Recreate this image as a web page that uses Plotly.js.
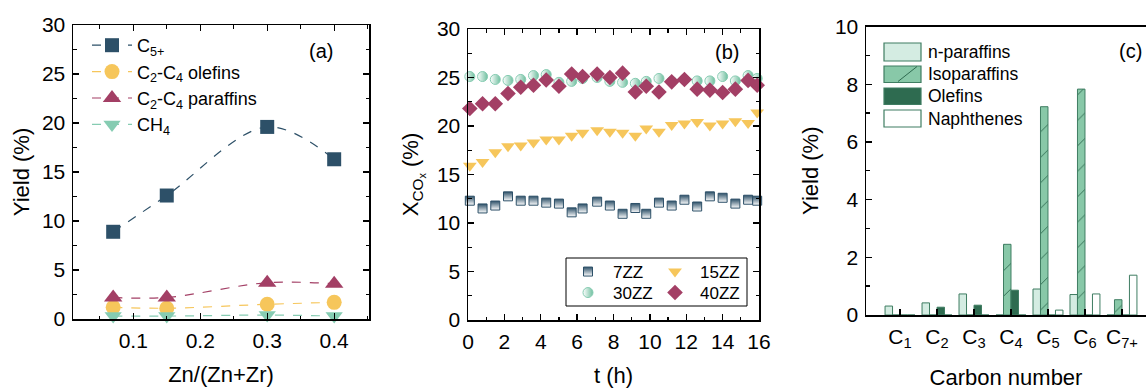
<!DOCTYPE html>
<html><head><meta charset="utf-8">
<script src="https://cdn.plot.ly/plotly-3.0.1.min.js"></script>
<style>html,body{margin:0;padding:0;background:#fff}#chart{width:1146px;height:390px}</style>
</head><body><div id="chart"></div>
<script>
// ---------- Panel (a) ----------
const znRatio = [0.07, 0.15, 0.30, 0.40];
const c5plus = [8.9, 12.6, 19.6, 16.3];
const c2c4Olefins = [1.2, 1.1, 1.5, 1.7];
const c2c4Paraffins = [2.2, 2.2, 3.7, 3.6];
const ch4 = [0.3, 0.3, 0.4, 0.3];
const seriesNamesA = ['C<sub>5+</sub>', 'C<sub>2</sub>-C<sub>4</sub> olefins', 'C<sub>2</sub>-C<sub>4</sub> paraffins', 'CH<sub>4</sub>'];

// ---------- Panel (b) ----------
const timeH = [0.1, 0.8, 1.5, 2.2, 2.9, 3.6, 4.3, 5.0, 5.7, 6.3, 7.1, 7.8, 8.5, 9.2, 9.8, 10.5, 11.2, 11.9, 12.6, 13.3, 14.0, 14.7, 15.4, 15.9];
const conv7ZZ = [12.3, 11.5, 11.8, 12.75, 12.3, 12.3, 12.1, 12.0, 11.1, 11.5, 12.2, 11.8, 10.95, 11.55, 10.95, 12.1, 11.8, 12.4, 11.7, 12.75, 12.6, 12.0, 12.4, 12.3];
const conv15ZZ = [15.9, 16.3, 17.3, 17.9, 18.0, 18.3, 18.6, 18.6, 19.0, 19.3, 19.55, 19.4, 19.3, 19.0, 19.75, 19.4, 20.1, 20.25, 20.4, 20.05, 20.25, 20.5, 20.3, 21.4];
const conv30ZZ = [25.1, 25.1, 24.8, 24.7, 24.8, 25.2, 25.3, 24.5, 24.6, 24.9, 25.0, 24.6, 24.5, 24.4, 24.6, 24.9, 24.6, 24.8, 24.65, 24.65, 25.1, 24.65, 25.2, 24.9];
const conv40ZZ = [21.8, 22.3, 22.3, 23.35, 24.0, 24.2, 24.75, 24.1, 25.35, 25.1, 25.35, 25.0, 25.45, 23.5, 24.1, 23.5, 24.55, 24.8, 23.8, 23.7, 23.45, 23.8, 24.7, 24.2];
const seriesNamesB = ['7ZZ', '15ZZ', '30ZZ', '40ZZ'];

// ---------- Panel (c) ----------
const carbonLabels = ['C<sub>1</sub>', 'C<sub>2</sub>', 'C<sub>3</sub>', 'C<sub>4</sub>', 'C<sub>5</sub>', 'C<sub>6</sub>', 'C<sub>7+</sub>'];
const nParaffins = [0.31, 0.42, 0.73, 0, 0.90, 0.71, 0];
const isoParaffins = [0, 0, 0, 2.45, 7.22, 7.83, 0.53];
const olefinsC = [0, 0.27, 0.34, 0.86, 0, 0, 0];
const naphthenes = [0, 0, 0, 0, 0.17, 0.73, 1.38];
const seriesNamesC = ['n-paraffins', 'Isoparaffins', 'Olefins', 'Naphthenes'];

// ---------- styling ----------
const W = 1146, H = 390;
const px = x => x / W;
const py = y => 1 - y / H;
const FONT = 'Liberation Sans, Arial, sans-serif';
const navy = '#2d5068', yellow = '#f6c65b', wine = '#a33f65', mint = '#86ccb2';
const gLight = '#d4ece2', gMid = '#88c8a8', gDark = '#2e6b50', gEdge = '#3f7d62';

const traces = [];
// Panel (a)
const aSeries = [c5plus, c2c4Olefins, c2c4Paraffins, ch4];
const aColors = [navy, yellow, wine, mint];
const aSymbols = ['square', 'circle', 'triangle-up', 'triangle-down'];
const aSizes = [14, 15, 16, 15];
aSeries.forEach((vals, i) => {
  traces.push({
    type: 'scatter', mode: 'lines+markers', x: znRatio, y: vals, name: seriesNamesA[i],
    xaxis: 'x', yaxis: 'y', legend: 'legend', cliponaxis: false,
    line: {color: aColors[i], width: 1.2, dash: 'dash', shape: 'spline', smoothing: 1},
    marker: {symbol: aSymbols[i], size: aSizes[i], color: aColors[i], line: {width: 0}}
  });
});

// Panel (b)
const bSeries = [conv7ZZ, conv15ZZ, conv30ZZ, conv40ZZ];
const bMarkers = [
  {symbol: 'square', size: 9, color: navy, gradient: {type: 'vertical', color: '#ffffff'}, line: {color: navy, width: 1}},
  {symbol: 'triangle-down', size: 12, color: yellow, line: {width: 0}},
  {symbol: 'circle', size: 10, color: '#ffffff', gradient: {type: 'horizontal', color: '#6fbf9f'}, line: {color: mint, width: 1}},
  {symbol: 'diamond', size: 12, color: wine, line: {width: 0}}
];
const bLegends = ['legend2', 'legend3', 'legend4', 'legend5'];
bSeries.forEach((vals, i) => {
  traces.push({
    type: 'scatter', mode: 'markers', x: timeH, y: vals, name: seriesNamesB[i],
    xaxis: 'x2', yaxis: 'y2', legend: bLegends[i], cliponaxis: false,
    marker: bMarkers[i]
  });
});

// Panel (c)
const cSeries = [nParaffins, isoParaffins, olefinsC, naphthenes];
const cColors = [gLight, gMid, gDark, '#ffffff'];
cSeries.forEach((vals, i) => {
  const m = {color: cColors[i], line: {color: gEdge, width: 1}};
  if (i === 1) m.pattern = {shape: '/', fgcolor: gDark, bgcolor: gMid, size: 18, solidity: 0.05};
  traces.push({
    type: 'bar', x: carbonLabels, y: vals, name: seriesNamesC[i],
    xaxis: 'x3', yaxis: 'y3', showlegend: false, marker: m
  });
});

const tickFont = {family: FONT, size: 21, color: '#000'};
const titleFont = {family: FONT, size: 22, color: '#000'};
function lin(extra) {
  return Object.assign({
    showline: true, linecolor: '#000', linewidth: 1.5, mirror: 'allticks',
    ticks: 'inside', ticklen: 6, tickwidth: 1.3, tickcolor: '#000',
    showgrid: false, zeroline: false, tickfont: tickFont, ticklabelstandoff: 2
  }, extra);
}
const legFont = {family: FONT, size: 17, color: '#000'};
function legAt(x, y, extra) {
  return Object.assign({x: px(x), y: py(y), xanchor: 'left', yanchor: 'middle',
    bgcolor: 'rgba(0,0,0,0)', font: legFont, itemwidth: 40, borderwidth: 0}, extra);
}

const layout = {
  width: W, height: H, margin: {l: 0, r: 0, t: 0, b: 0},
  paper_bgcolor: '#fff', plot_bgcolor: 'rgba(0,0,0,0)',
  font: {family: FONT, color: '#000'},
  barmode: 'group', bargap: 0.19, bargroupgap: 0,
  xaxis: lin({domain: [px(73), px(369)], anchor: 'y', range: [0.01, 0.452], dtick: 0.1, tick0: 0,
    minor: {dtick: 0.05, ticks: 'inside', ticklen: 3.5, tickcolor: '#000'},
    title: {text: 'Zn/(Zn+Zr)', font: titleFont, standoff: 16}}),
  yaxis: lin({domain: [py(319), py(25)], anchor: 'x', range: [0, 30], dtick: 5,
    minor: {dtick: 2.5, ticks: 'inside', ticklen: 3.5, tickcolor: '#000'},
    title: {text: 'Yield (%)', font: titleFont, standoff: 6}}),
  xaxis2: lin({domain: [px(468), px(759)], anchor: 'y2', range: [0, 16], dtick: 2,
    minor: {dtick: 1, ticks: 'inside', ticklen: 3.5, tickcolor: '#000'},
    title: {text: 't (h)', font: titleFont, standoff: 16}}),
  yaxis2: lin({domain: [py(320), py(29)], anchor: 'x2', range: [0, 30], dtick: 5,
    minor: {dtick: 2.5, ticks: 'inside', ticklen: 3.5, tickcolor: '#000'},
    title: {text: 'X<sub>CO<sub>x</sub></sub> (%)', font: titleFont, standoff: 12}}),
  xaxis3: lin({domain: [px(866), 1], anchor: 'y3', range: [-0.92, 6.65], mirror: true,
    title: {text: 'Carbon number', font: titleFont, standoff: 21}}),
  yaxis3: lin({domain: [py(315), py(26.5)], anchor: 'x3', range: [0, 10], dtick: 2, mirror: false,
    minor: {dtick: 1, ticks: 'inside', ticklen: 3.5, tickcolor: '#000'},
    title: {text: 'Yield (%)', font: titleFont, standoff: 10}}),
  legend: {x: px(87), y: py(27), xanchor: 'left', yanchor: 'top', bgcolor: 'rgba(0,0,0,0)',
    font: {family: FONT, size: 18, color: '#000'}, itemwidth: 40, tracegroupgap: 0},
  legend2: legAt(563, 272),
  legend3: legAt(650, 272),
  legend4: legAt(563, 293),
  legend5: legAt(650, 293),
  annotations: [
    {xref: 'paper', yref: 'paper', x: px(321), y: py(51), xanchor: 'center', yanchor: 'middle', text: '(a)', showarrow: false, font: {family: FONT, size: 20, color: '#000'}},
    {xref: 'paper', yref: 'paper', x: px(727), y: py(52), xanchor: 'center', yanchor: 'middle', text: '(b)', showarrow: false, font: {family: FONT, size: 20, color: '#000'}},
    {xref: 'paper', yref: 'paper', x: px(1130), y: py(51), xanchor: 'center', yanchor: 'middle', text: '(c)', showarrow: false, font: {family: FONT, size: 20, color: '#000'}}
  ],
  shapes: [
    {type: 'rect', xref: 'paper', yref: 'paper', x0: px(566), x1: px(747), y0: py(306), y1: py(258), line: {color: '#000', width: 1}}
  ]
};

// Panel (c) legend drawn as swatches + text
const swatchY = [[43, 61], [66, 82.5], [88, 104.5], [110, 127]];
const swatchFill = [gLight, gMid, gDark, '#ffffff'];
seriesNamesC.forEach((nm, i) => {
  layout.shapes.push({type: 'rect', xref: 'paper', yref: 'paper', x0: px(884), x1: px(921),
    y0: py(swatchY[i][1]), y1: py(swatchY[i][0]), fillcolor: swatchFill[i], line: {color: gEdge, width: 1.2}});
  layout.annotations.push({xref: 'paper', yref: 'paper', x: px(926), y: py((swatchY[i][0] + swatchY[i][1]) / 2),
    xanchor: 'left', yanchor: 'middle', text: nm, showarrow: false, font: {family: FONT, size: 17.5, color: '#000'}});
});
layout.shapes.push({type: 'line', xref: 'paper', yref: 'paper', x0: px(898), y0: py(81.5), x1: px(917), y1: py(66.5), line: {color: gDark, width: 1}});

Plotly.newPlot('chart', traces, layout, {displayModeBar: false, staticPlot: true});
</script></body></html>
